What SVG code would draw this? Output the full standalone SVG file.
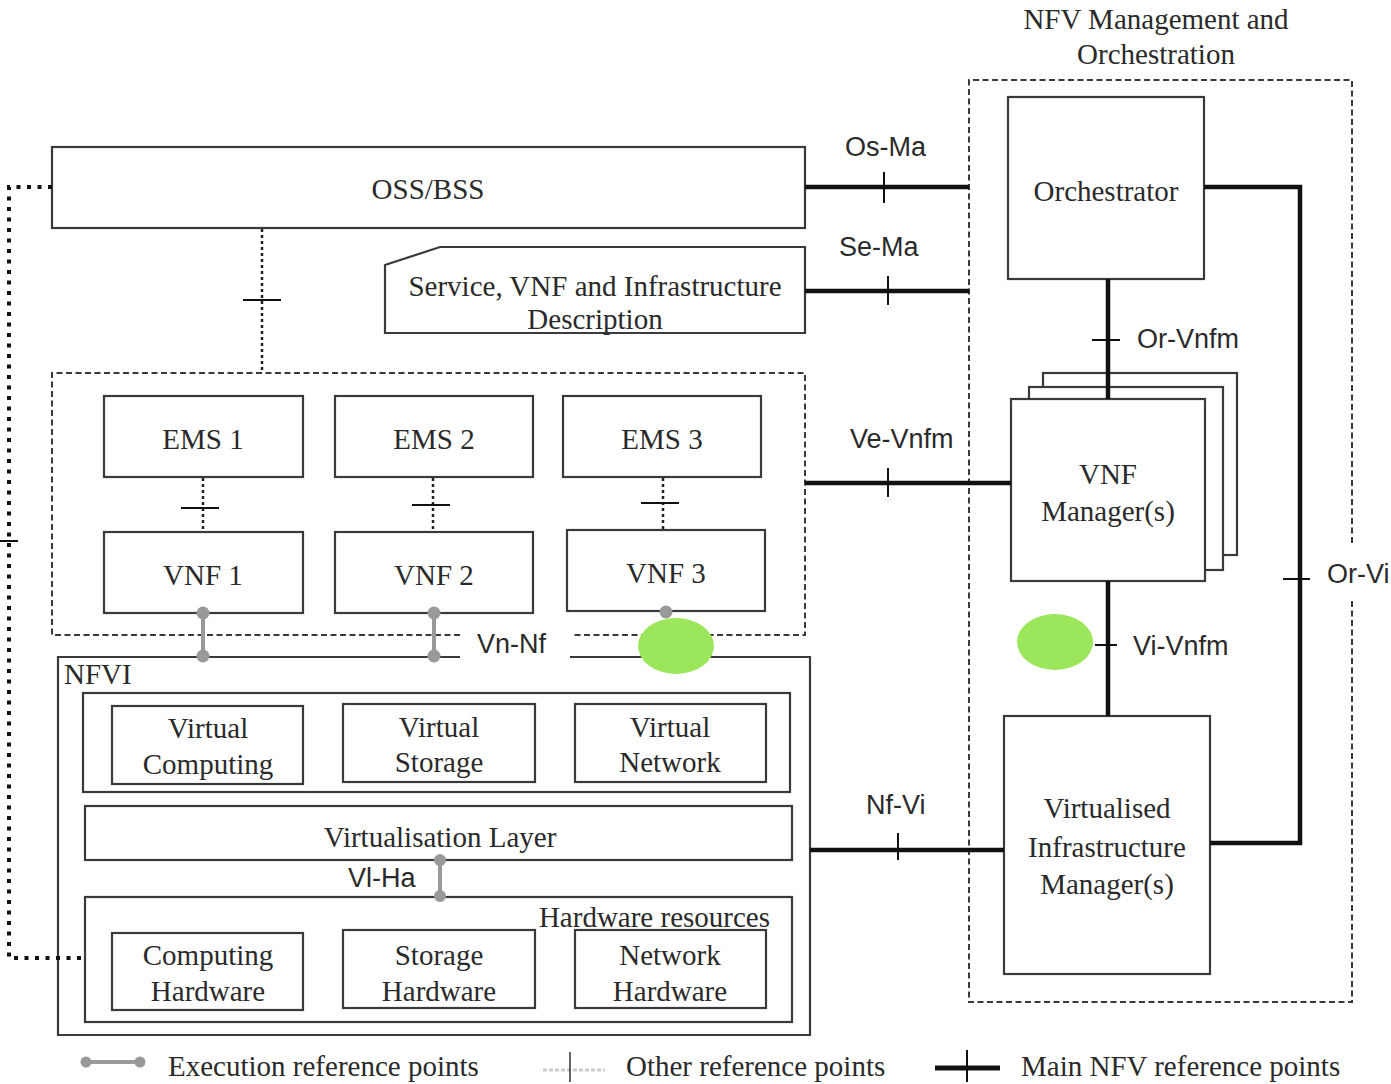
<svg xmlns="http://www.w3.org/2000/svg" width="1391" height="1084" viewBox="0 0 1391 1084">
<style>
.box{fill:#fff;stroke:#3a3a3a;stroke-width:2.2}
.dash{fill:none;stroke:#3a3a3a;stroke-width:2;stroke-dasharray:6 3.5}
.t{font-family:"Liberation Serif","Times New Roman",serif;font-size:29px;fill:#2a2a2a;text-anchor:middle}
.s{font-family:"Liberation Sans",Arial,sans-serif;font-size:27px;fill:#2a2a2a}
.main{fill:none;stroke:#111;stroke-width:4.5}
.tick{stroke:#111;stroke-width:2}
.other{fill:none;stroke:#222;stroke-width:2.5;stroke-dasharray:3 3}
.exec{fill:none;stroke:#999;stroke-width:4}
.dot{fill:#999}
.green{fill:#9be65a}
</style>
<g id="mano-title">
<text class="t" x="1156" y="29">NFV Management and</text>
<text class="t" x="1156" y="64">Orchestration</text>
</g>
<g id="mano-box">
<path class="dash" d="M1352,543 V80 H969 V1002 H1352 V598"/>
</g>
<g id="vnf-domain">
<path class="dash" d="M460,635 H52 V373 H805 V635 H572"/>
</g>
<g id="oss-bss">
<rect class="box" x="52" y="147" width="753" height="81"/>
<text class="t" x="428" y="199">OSS/BSS</text>
</g>
<g id="description">
<polygon class="box" points="385,265 440,247 805,247 805,333 385,333"/>
<text class="t" x="595" y="296">Service, VNF and Infrastructure</text>
<text class="t" x="595" y="329">Description</text>
</g>
<g id="ems1"><rect class="box" x="104" y="396" width="199" height="81"/><text class="t" x="203" y="449">EMS 1</text></g>
<g id="ems2"><rect class="box" x="335" y="396" width="198" height="81"/><text class="t" x="434" y="449">EMS 2</text></g>
<g id="ems3"><rect class="box" x="563" y="396" width="198" height="81"/><text class="t" x="662" y="449">EMS 3</text></g>
<g id="vnf1"><rect class="box" x="104" y="532" width="199" height="81"/><text class="t" x="203" y="585">VNF 1</text></g>
<g id="vnf2"><rect class="box" x="335" y="532" width="198" height="81"/><text class="t" x="434" y="585">VNF 2</text></g>
<g id="vnf3"><rect class="box" x="567" y="530" width="198" height="81"/><text class="t" x="666" y="583">VNF 3</text></g>
<g id="nfvi">
<path fill="#fff" stroke="#3a3a3a" stroke-width="2.2" d="M460,657 H58 V1035 H810 V657 H570"/>
<text class="t" x="64" y="684" style="text-anchor:start">NFVI</text>
</g>
<g id="virtual-resources">
<rect class="box" x="83" y="693" width="707" height="99"/>
<rect class="box" x="112" y="706" width="191" height="78"/>
<text class="t" x="208" y="738">Virtual</text><text class="t" x="208" y="774">Computing</text>
<rect class="box" x="343" y="704" width="192" height="78"/>
<text class="t" x="439" y="737">Virtual</text><text class="t" x="439" y="772">Storage</text>
<rect class="box" x="575" y="704" width="191" height="78"/>
<text class="t" x="670" y="737">Virtual</text><text class="t" x="670" y="772">Network</text>
</g>
<g id="virtualisation-layer">
<rect class="box" x="85" y="806" width="707" height="54"/>
<text class="t" x="440" y="847">Virtualisation Layer</text>
</g>
<g id="hardware-resources">
<rect class="box" x="85" y="897" width="707" height="125"/>
<text class="t" x="770" y="927" style="text-anchor:end">Hardware resources</text>
<rect class="box" x="112" y="933" width="191" height="77"/>
<text class="t" x="208" y="965">Computing</text><text class="t" x="208" y="1001">Hardware</text>
<rect class="box" x="343" y="930" width="192" height="78"/>
<text class="t" x="439" y="965">Storage</text><text class="t" x="439" y="1001">Hardware</text>
<rect class="box" x="575" y="930" width="191" height="78"/>
<text class="t" x="670" y="965">Network</text><text class="t" x="670" y="1001">Hardware</text>
</g>
<g id="orchestrator">
<rect class="box" x="1008" y="97" width="196" height="182"/>
<text class="t" x="1106" y="201">Orchestrator</text>
</g>
<g id="vnf-manager">
<rect class="box" x="1043" y="373" width="194" height="182"/>
<rect class="box" x="1029" y="387" width="194" height="183"/>
<rect class="box" x="1011" y="399" width="194" height="182"/>
<text class="t" x="1108" y="484">VNF</text>
<text class="t" x="1108" y="521">Manager(s)</text>
</g>
<g id="vim">
<rect class="box" x="1004" y="716" width="206" height="258"/>
<text class="t" x="1107" y="818">Virtualised</text>
<text class="t" x="1107" y="857">Infrastructure</text>
<text class="t" x="1107" y="894">Manager(s)</text>
</g>
<g id="connectors">
<path fill="none" stroke="#111" stroke-width="4" stroke-dasharray="4 6.5" d="M52,187 H9 V958 H85"/>
<line class="tick" x1="0" y1="541" x2="18" y2="541"/>
<line class="other" x1="262" y1="229" x2="262" y2="373"/>
<line class="tick" x1="243" y1="300" x2="281" y2="300" stroke-width="2.5"/>
<line class="other" x1="203" y1="478" x2="203" y2="532"/>
<line class="tick" x1="181" y1="508" x2="219" y2="508" stroke-width="2.5"/>
<line class="other" x1="433" y1="478" x2="433" y2="532"/>
<line class="tick" x1="412" y1="505" x2="450" y2="505" stroke-width="2.5"/>
<line class="other" x1="663" y1="478" x2="663" y2="530"/>
<line class="tick" x1="641" y1="503" x2="679" y2="503" stroke-width="2.5"/>
<line class="exec" x1="203" y1="613" x2="203" y2="657"/>
<circle class="dot" cx="203" cy="613" r="6.5"/><circle class="dot" cx="203" cy="656" r="6.5"/>
<line class="exec" x1="434" y1="613" x2="434" y2="657"/>
<circle class="dot" cx="434" cy="613" r="6.5"/><circle class="dot" cx="434" cy="656" r="6.5"/>
<circle class="dot" cx="666" cy="612" r="6.5"/>
<text class="s" x="477" y="653">Vn-Nf</text>
<line class="exec" x1="440" y1="860" x2="440" y2="897"/>
<circle class="dot" cx="440" cy="860" r="6"/><circle class="dot" cx="440" cy="896" r="6"/>
<text class="s" x="348" y="887">Vl-Ha</text>
<line class="main" x1="805" y1="187" x2="969" y2="187"/>
<line class="tick" x1="884" y1="172" x2="884" y2="203"/>
<text class="s" x="845" y="156">Os-Ma</text>
<line class="main" x1="805" y1="291" x2="969" y2="291"/>
<line class="tick" x1="888" y1="276" x2="888" y2="305"/>
<text class="s" x="839" y="256">Se-Ma</text>
<line class="main" x1="1108" y1="279" x2="1108" y2="399"/>
<line class="tick" x1="1092" y1="340" x2="1120" y2="340"/>
<text class="s" x="1137" y="348">Or-Vnfm</text>
<line class="main" x1="805" y1="483" x2="1011" y2="483"/>
<line class="tick" x1="888" y1="468" x2="888" y2="497"/>
<text class="s" x="850" y="448">Ve-Vnfm</text>
<line class="main" x1="1108" y1="581" x2="1108" y2="716"/>
<line class="tick" x1="1095" y1="645" x2="1117" y2="645" stroke="#888"/>
<text class="s" x="1133" y="655">Vi-Vnfm</text>
<line class="main" x1="810" y1="850" x2="1004" y2="850"/>
<line class="tick" x1="898" y1="833" x2="898" y2="860"/>
<text class="s" x="866" y="814">Nf-Vi</text>
<path class="main" d="M1204,187 H1300 V843 H1210"/>
<line class="tick" x1="1283" y1="579" x2="1310" y2="579"/>
<text class="s" x="1327" y="583">Or-Vi</text>
</g>
<g id="annotations">
<ellipse class="green" cx="676" cy="646" rx="38" ry="28"/>
<ellipse class="green" cx="1055" cy="642" rx="38" ry="28"/>
</g>
<g id="legend">
<line class="exec" x1="86" y1="1062" x2="140" y2="1062"/>
<circle class="dot" cx="86" cy="1062" r="5.5"/><circle class="dot" cx="140" cy="1062" r="5.5"/>
<text class="t" x="168" y="1076" style="text-anchor:start">Execution reference points</text>
<line x1="543" y1="1070" x2="605" y2="1070" stroke="#ccc" stroke-width="3" stroke-dasharray="4 2"/>
<line x1="570" y1="1052" x2="570" y2="1082" stroke="#333" stroke-width="1.5"/>
<text class="t" x="626" y="1076" style="text-anchor:start">Other reference points</text>
<line x1="935" y1="1068" x2="1000" y2="1068" stroke="#111" stroke-width="5"/>
<line x1="967" y1="1050" x2="967" y2="1082" stroke="#111" stroke-width="2"/>
<text class="t" x="1021" y="1076" style="text-anchor:start">Main NFV reference points</text>
</g>
</svg>
